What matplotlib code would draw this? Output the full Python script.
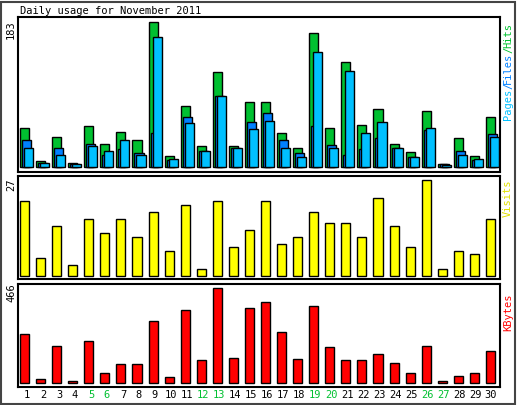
import matplotlib.pyplot as plt
import numpy as np
from matplotlib.patches import Rectangle

# --- Data --------------------------------------------------------------------
days = np.arange(1, 31)
hits = [50, 8, 38, 5, 52, 30, 45, 34, 183, 14, 77, 27, 120, 27, 82,
        83, 43, 25, 169, 50, 133, 53, 73, 30, 19, 71, 4, 37, 14, 63]
files = [34, 5, 25, 4, 30, 15, 23, 18, 43, 9, 64, 20, 90, 24, 57,
         68, 35, 18, 52, 28, 15, 23, 37, 24, 13, 47, 4, 21, 9, 42]
pages = [25, 5, 15, 4, 27, 21, 34, 15, 164, 10, 56, 20, 90, 24, 48,
         59, 25, 13, 145, 25, 121, 43, 57, 25, 13, 50, 3, 16, 10, 38]
visits = [21, 5, 14, 3, 16, 12, 16, 11, 18, 7, 20, 2, 21, 8, 13,
          21, 9, 11, 18, 15, 15, 11, 22, 14, 8, 27, 2, 7, 6, 16]
kbytes = [241, 21, 182, 11, 207, 50, 94, 94, 305, 31, 358, 114, 466, 124, 368,
          397, 251, 119, 378, 178, 114, 114, 145, 99, 50, 182, 11, 36, 50, 158]
weekend = [5, 6, 12, 13, 19, 20, 26, 27]

C_HITS, C_FILES, C_PAGES = '#00c030', '#0080ff', '#00c0ff'
C_VISITS, C_KB = '#ffff00', '#ff0000'
W, H = 517, 405
MONO = 'DejaVu Sans Mono'


def px_axes(fig, x0, y0, x1, y1):
    return fig.add_axes([x0 / W, 1 - y1 / H, (x1 - x0) / W, (y1 - y0) / H])


fig = plt.figure(figsize=(W / 100, H / 100), dpi=100, facecolor='white')
fig.patches.append(Rectangle((1 / W, 1 / H), 514 / W, 402 / H, transform=fig.transFigure,
                             fill=False, edgecolor='#444444', lw=1.5))

ax1 = px_axes(fig, 18, 17, 500, 172)
ax2 = px_axes(fig, 18, 176, 500, 279)
ax3 = px_axes(fig, 18, 284, 500, 387)

bw = 0.5625
kw = dict(width=bw, align='edge', edgecolor='black', linewidth=1)
ax1.bar(days - 0.375, hits, color=C_HITS, **kw)
ax1.bar(days - 0.25, files, color=C_FILES, **kw)
ax1.bar(days - 0.125, pages, color=C_PAGES, **kw)
ax1.set_ylim(-5.9, 189.7)
ax2.bar(days - 0.375, visits, color=C_VISITS, **kw)
ax2.set_ylim(-0.93, 28.2)
ax3.bar(days - 0.375, kbytes, color=C_KB, **kw)
ax3.set_ylim(-17.6, 487)

for ax in (ax1, ax2, ax3):
    ax.set_xlim(0.5, 30.5)
    ax.set_xticks([])
    ax.set_yticks([])
    for s in ax.spines.values():
        s.set_linewidth(1.5)

for d in days:
    fig.text((18 + (d - 0.5) * 16 + 1) / W, 1 - 395 / H, str(d), ha='center', va='center',
             family=MONO, fontsize=7.5, color=C_HITS if d in weekend else 'black')

fig.text(20 / W, 1 - 11 / H, 'Daily usage for November 2011', family=MONO,
         fontsize=7.5, va='center', ha='left')

for y, label in [(30, '183'), (185, '27'), (293, '466')]:
    fig.text(11 / W, 1 - y / H, label, rotation=90, family=MONO, fontsize=7.5,
             va='center', ha='center')

# right side legends, rotated, bottom to top
def rlabel(parts, y_bottom):
    y = y_bottom
    for txt, col in parts:
        h = 6.0 * len(txt)
        fig.text(508 / W, 1 - (y - h / 2) / H, txt, rotation=90, family=MONO,
                 fontsize=7.5, color=col, va='center', ha='center')
        y -= h

rlabel([('Pages', C_PAGES), ('/', C_FILES), ('Files', C_FILES), ('/', C_HITS), ('Hits', C_HITS)], 119)
rlabel([('Visits', '#e0e000')], 216)
rlabel([('KBytes', C_KB)], 330)

fig.savefig('out.png', dpi=100, facecolor='white')
